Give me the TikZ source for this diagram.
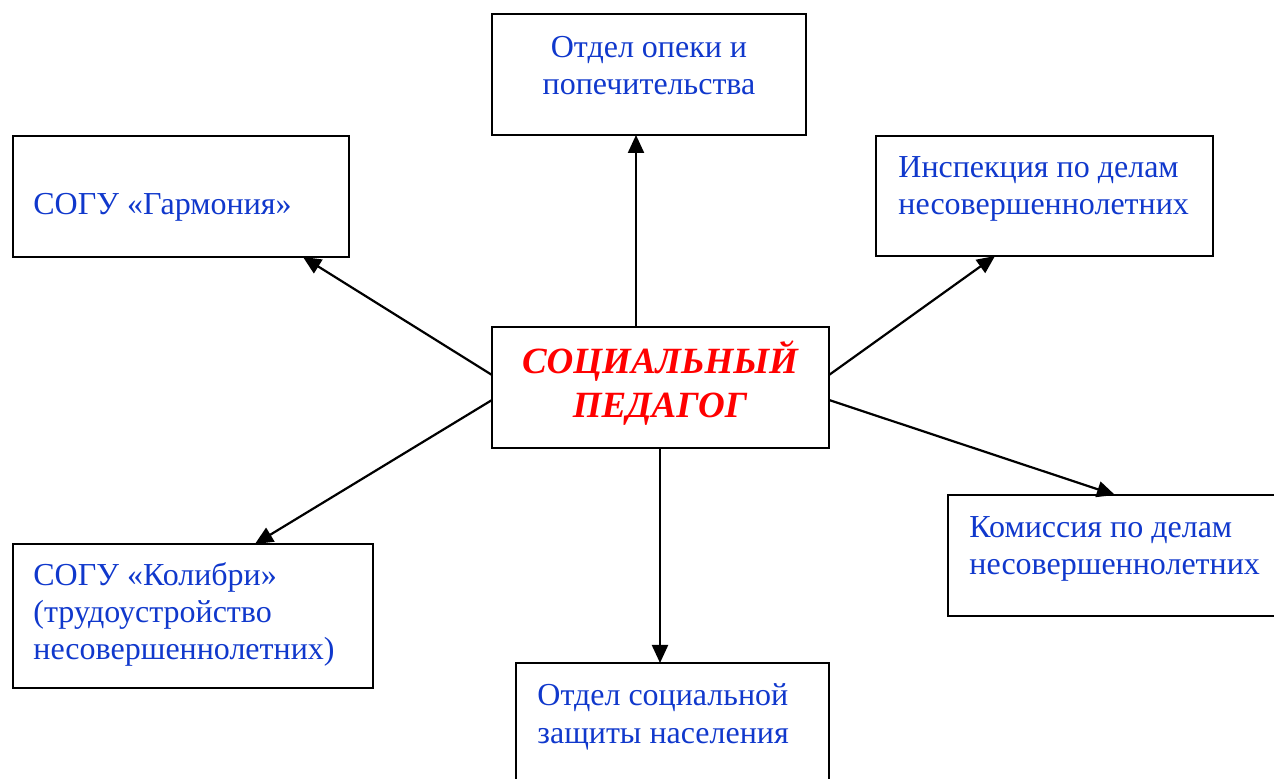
\documentclass[tikz,border=0pt]{standalone}
\usepackage{fontspec}
\setmainfont{Liberation Serif}
\usetikzlibrary{arrows.meta,
    calc}

\definecolor{orgblue}{RGB}{16,56,204}

\tikzset{
  box/.style 2 args={draw, line width=1pt, minimum width=#1, minimum height=#2,
    inner sep=0pt, outer sep=0pt, anchor=north west},
  lbl/.style={text=orgblue, font=\fontsize{16}{18.5}\selectfont, align=left,
    inner sep=0pt, anchor=base west},
  link/.style={line width=1.1pt, -{Triangle[length=9pt,width=8pt]}}
}

\begin{document}
\begin{tikzpicture}[x=0.5pt,y=-0.5pt]
  \useasboundingbox (0,0) rectangle (1274,779);
  \clip (0,0) rectangle (1274,779);
  % boxes
  \node[box={157pt}{60.5pt}] (opeka) at (492,14) {};
  \node[box={168pt}{60.5pt}] (garm) at (13,136) {};
  \node[box={168.5pt}{60pt}] (insp) at (876,136) {};
  \node[box={168.5pt}{60.5pt}] (ped) at (492,327) {};
  \node[box={168.5pt}{60.5pt}] (kom) at (948,495) {};
  \node[box={180pt}{72pt}] (kolibri) at (13,544) {};
  \node[box={156.5pt}{60.5pt}] (ozn) at (516,663) {};
  % texts (multi-line: base = last line)
  \node[lbl, anchor=base, align=center] (opekatxt) at (649,95) {Отдел опеки и\\попечительства};
  \node[lbl] (garmtxt) at (33,215) {СОГУ «Гармония»};
  \node[lbl] (insptxt) at (898,215) {Инспекция по делам\\несовершеннолетних};
  \node[lbl, anchor=base, align=center, text=red,
    font=\fontsize{18.5}{22}\selectfont\bfseries\itshape] (pedtxt) at (660,418) {СОЦИАЛЬНЫЙ\\ПЕДАГОГ};
  \node[lbl] (komtxt) at (969,575) {Комиссия по делам\\несовершеннолетних};
  \node[lbl] (kolibritxt) at (33,660) {СОГУ «Колибри»\\(трудоустройство\\несовершеннолетних)};
  \node[lbl] (ozntxt) at (537,743) {Отдел социальной\\защиты населения};
  % arrows
  \draw[link] ($(ped.north west)+(144,0)$) -- ($(opeka.south west)+(144,0)$);
  \draw[link] ($(ped.north west)+(0,48)$) -- ($(garm.south east)+(-46,0)$);
  \draw[link] ($(ped.north east)+(0,48)$) -- ($(insp.south west)+(119,0)$);
  \draw[link] ($(ped.north west)+(0,73)$) -- ($(kolibri.north west)+(242,0)$);
  \draw[link] ($(ped.north east)+(0,73)$) -- ($(kom.north west)+(167,0)$);
  \draw[link] ($(ped.south west)+(168,0)$) -- ($(ozn.north west)+(144,0)$);
\end{tikzpicture}
\end{document}
